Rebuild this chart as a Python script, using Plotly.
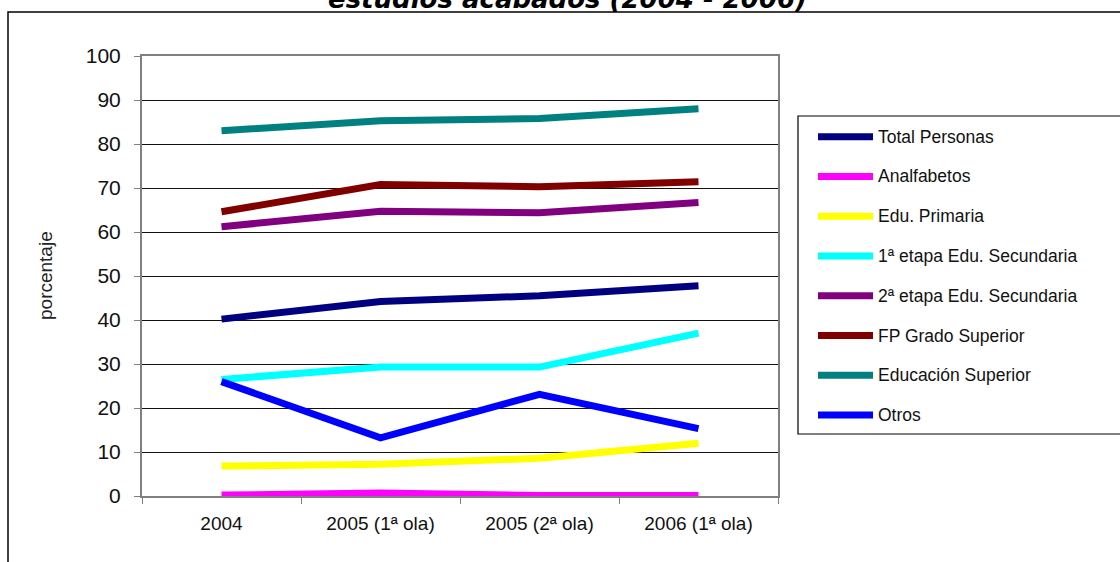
import plotly.graph_objects as go

# Survey waves on the x axis
periods = ["2004", "2005 (1ª ola)", "2005 (2ª ola)", "2006 (1ª ola)"]

# Percentage per education level
series_names = [
    "Total Personas",
    "Analfabetos",
    "Edu. Primaria",
    "1ª etapa Edu. Secundaria",
    "2ª etapa Edu. Secundaria",
    "FP Grado Superior",
    "Educación Superior",
    "Otros",
]
total_personas = [40.2, 44.2, 45.5, 47.8]
analfabetos = [0.2, 0.7, 0.1, 0.1]
edu_primaria = [6.8, 7.2, 8.6, 12.0]
secundaria_1 = [26.5, 29.3, 29.3, 37.0]
secundaria_2 = [61.2, 64.7, 64.4, 66.7]
fp_superior = [64.6, 70.8, 70.3, 71.4]
educacion_superior = [83.0, 85.3, 85.8, 88.0]
otros = [26.0, 13.2, 23.1, 15.3]

series_values = [total_personas, analfabetos, edu_primaria, secundaria_1,
                 secundaria_2, fp_superior, educacion_superior, otros]
series_colors = ["#000080", "#FF00FF", "#FFFF00", "#00FFFF",
                 "#800080", "#800000", "#008080", "#0000FF"]

y_ticks = [0, 10, 20, 30, 40, 50, 60, 70, 80, 90, 100]

W, H = 1120, 562
# plot area in pixels
PL, PR, PT, PB = 142, 778, 56, 496


def px_x(px):
    return (px - PL) / (PR - PL)


def px_y(py):
    return (PB - py) / (PB - PT)


fig = go.Figure()
for name, vals, col in zip(series_names, series_values, series_colors):
    fig.add_trace(go.Scatter(
        x=periods, y=vals, name=name, mode="lines",
        line=dict(color=col, width=7),
        showlegend=False, hoverinfo="x+y+name",
    ))

shapes = []
annotations = []

# outer frame of the chart
shapes.append(dict(type="rect", xref="paper", yref="paper",
                   x0=px_x(8), x1=px_x(1130), y0=px_y(12), y1=px_y(575),
                   line=dict(color="#000000", width=1.5), layer="below"))

# legend box
shapes.append(dict(type="rect", xref="paper", yref="paper",
                   x0=px_x(798), x1=px_x(1130), y0=px_y(116), y1=px_y(434),
                   line=dict(color="#000000", width=1.2), fillcolor="white"))

legend_font = dict(family="Liberation Sans, Arial, sans-serif", size=17.5, color="#111111")
for i, (name, col) in enumerate(zip(series_names, series_colors)):
    yc = 136.7 + i * 39.76
    shapes.append(dict(type="line", xref="paper", yref="paper",
                       x0=px_x(818), x1=px_x(873), y0=px_y(yc), y1=px_y(yc),
                       line=dict(color=col, width=7)))
    annotations.append(dict(text=name, xref="paper", yref="paper",
                            x=px_x(876), y=px_y(yc), xanchor="left", yanchor="middle",
                            showarrow=False, font=legend_font))

# y-axis title
annotations.append(dict(text="porcentaje", xref="paper", yref="paper",
                        x=px_x(45), y=px_y(276), textangle=-90,
                        xanchor="center", yanchor="middle", showarrow=False,
                        font=dict(family="Liberation Sans, Arial, sans-serif",
                                  size=19, color="#222222")))

# chart title (runs off the top edge)
annotations.append(dict(text="<b><i>estudios acabados (2004 - 2006)</i></b>",
                        xref="paper", yref="paper",
                        x=px_x(567), y=px_y(-1), xanchor="center", yanchor="middle",
                        showarrow=False,
                        font=dict(family="DejaVu Sans, Verdana, sans-serif",
                                  size=26, color="#000000")))

fig.update_layout(
    width=W, height=H,
    margin=dict(l=PL, r=W - PR, t=PT, b=H - PB, pad=0),
    paper_bgcolor="white", plot_bgcolor="white",
    shapes=shapes, annotations=annotations,
    font=dict(family="Liberation Sans, Arial, sans-serif", color="#111111"),
)
fig.update_xaxes(
    type="category", range=[-0.5, 3.5],
    showgrid=False, showline=True, mirror=True, linecolor="#808080", linewidth=2,
    ticks="outside", tickson="boundaries", ticklen=6, tickcolor="#808080",
    tickfont=dict(size=19, color="#111111"), ticklabelstandoff=9,
)
fig.update_yaxes(
    range=[0, 100], tickvals=y_ticks,
    showgrid=True, gridcolor="#111111", gridwidth=1, zeroline=False,
    showline=True, mirror=True, linecolor="#808080", linewidth=2,
    ticks="outside", ticklen=6, tickcolor="#808080",
    tickfont=dict(size=21, color="#111111"), ticklabelstandoff=9,
)

fig.write_html("out.html")
